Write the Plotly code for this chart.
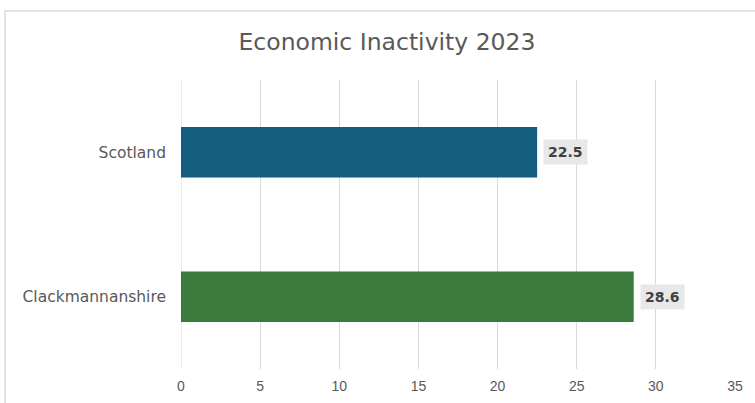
import plotly.graph_objects as go

categories = ["Clackmannanshire", "Scotland"]
values = [28.6, 22.5]
colors = ["#3a7a3c", "#155d7e"]
x_ticks = [0, 5, 10, 15, 20, 25, 30, 35]

W, H = 755, 403
L, T = 181, 80
R = W - 735
B = H - 369
pw = W - L - R
ph = H - T - B

fig = go.Figure()
fig.add_trace(go.Bar(
    y=categories, x=values, orientation="h",
    marker=dict(color=colors, line=dict(width=0)),
    width=0.35, hoverinfo="skip",
))

for c, v in zip(categories, values):
    fig.add_annotation(
        x=v, y=c, xref="x", yref="y", text=f"<b>{v}</b>",
        showarrow=False, xanchor="left", xshift=6,
        bgcolor="#e8e8e8", borderpad=4,
        font=dict(family="DejaVu Sans, sans-serif", size=14, color="#404040"),
    )

# outer chart frame (page pixel coords -> paper)
def px_x(p):
    return (p - L) / pw

def px_y(p):
    return (H - B - p) / ph

fig.add_shape(type="rect", xref="paper", yref="paper",
              x0=px_x(5), x1=px_x(800), y0=px_y(11), y1=px_y(450),
              line=dict(color="#d9d9d9", width=1.5), fillcolor="rgba(0,0,0,0)", layer="below")

fig.update_layout(
    width=W, height=H,
    margin=dict(l=L, r=R, t=T, b=B, autoexpand=False),
    paper_bgcolor="white", plot_bgcolor="white",
    showlegend=False,
    title=dict(text="Economic Inactivity 2023", x=387 / W, xanchor="center",
               y=1 - 42 / H, yanchor="middle",
               font=dict(family="DejaVu Sans, sans-serif", size=23.5, color="#595959")),
    xaxis=dict(range=[0, 35], tickvals=x_ticks, showgrid=True, gridcolor="#d9d9d9", gridwidth=1,
               zeroline=False, showline=False, ticks="", ticklabelstandoff=7, automargin=False,
               tickfont=dict(family="Liberation Sans, Arial, sans-serif", size=14, color="#595959")),
    yaxis=dict(range=[-0.5, 1.5], showgrid=False, zeroline=False, showline=False, ticks="",
               ticklabelstandoff=14, automargin=False,
               tickfont=dict(family="DejaVu Sans, sans-serif", size=15.5, color="#595959")),
)
fig.add_vline(x=0, line=dict(color="#d9d9d9", width=1), layer="below")

fig.write_html("out.html",
               config={"displayModeBar": False, "staticPlot": True},
               post_script="document.body.style.margin='0';document.body.style.overflow='hidden';")
